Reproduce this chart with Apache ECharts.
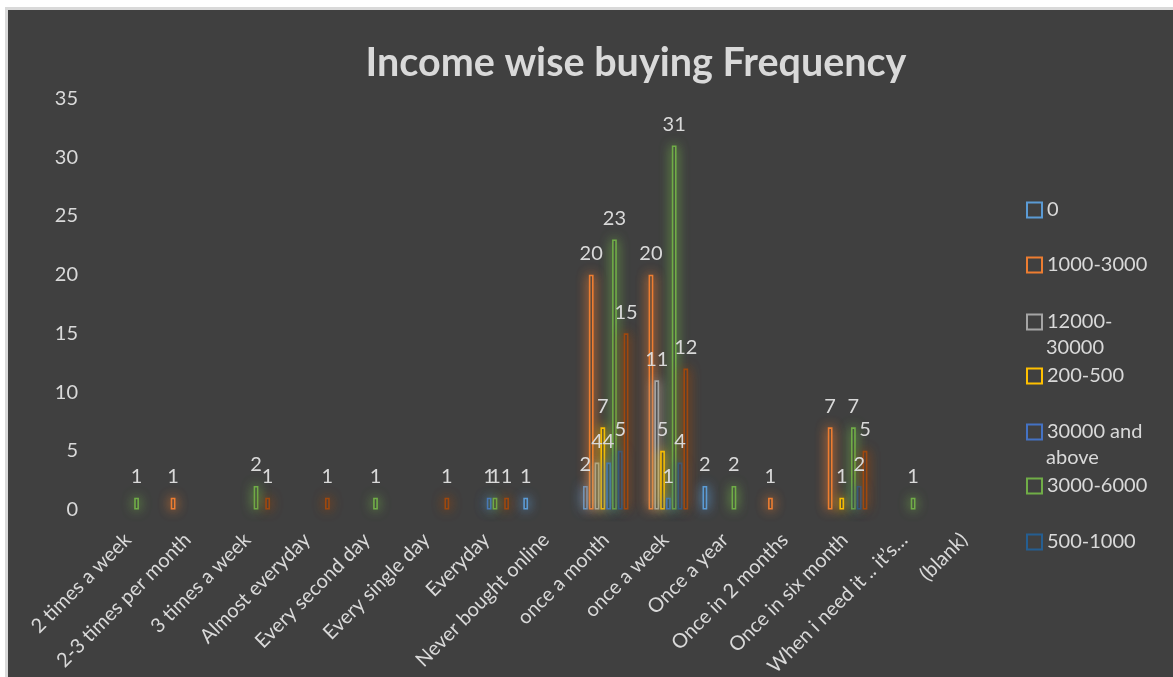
<!DOCTYPE html>
<html>
<head>
<meta charset="utf-8">
<script src="https://cdn.jsdelivr.net/npm/echarts@6/dist/echarts.min.js"></script>
<style>
  html, body { margin: 0; padding: 0; background: #ffffff; width: 1173px; height: 677px; overflow: hidden; }
  #frame { position: absolute; left: 5px; top: 7px; width: 1168px; height: 670px; background: #d9d9d9; }
  #chart { position: absolute; left: 8px; top: 10px; width: 1165px; height: 667px; }
</style>
</head>
<body>
<div id="frame"></div>
<div id="chart"></div>
<script>
// Buying frequency categories (x axis)
const categories = [
  '2 times a week', '2-3 times per month', '3 times a week', 'Almost everyday',
  'Every second day', 'Every single day', 'Everyday', 'Never bought online',
  'once a month', 'once a week', 'Once a year', 'Once in 2 months',
  'Once in six month', 'When i need it .. it\u2019s\u2026', '(blank)'
];

// Income groups, in legend order
const seriesNames = ['0', '1000-3000', '12000-30000', '200-500', '30000 and above', '3000-6000', '500-1000', '6000-12000'];
const seriesColors = ['#5B9BD5', '#ED7D31', '#A5A5A5', '#FFC000', '#4472C4', '#70AD47', '#255E91', '#9E480E'];

// Counts per category for each income group (null = no respondents)
const inc0        = [null, null, null, null, null, null, null, 1, 2, null, 2, null, null, null, null];
const inc1000     = [null, 1, null, null, null, null, null, null, 20, 20, null, 1, 7, null, null];
const inc12000    = [null, null, null, null, null, null, null, null, 4, 11, null, null, null, null, null];
const inc200      = [null, null, null, null, null, null, null, null, 7, 5, null, null, 1, null, null];
const inc30000    = [null, null, null, null, null, null, 1, null, 4, 1, null, null, null, null, null];
const inc3000     = [1, null, 2, null, 1, null, 1, null, 23, 31, 2, null, 7, 1, null];
const inc500      = [null, null, null, null, null, null, null, null, 5, 4, null, null, 2, null, null];
const inc6000     = [null, null, 1, 1, null, 1, 1, null, 15, 12, null, null, 5, null, null];
const seriesValues = [inc0, inc1000, inc12000, inc200, inc30000, inc3000, inc500, inc6000];

// Y axis ticks
const yMin = 0, yMax = 35, yStep = 5;

// Legend entries shown (the last group does not fit in the legend box)
const legendEntries = ['0', '1000-3000', '12000-30000', '200-500', '30000 and above', '3000-6000', '500-1000'];
// Legend labels that wrap onto a second line
const legendLines = {
  '12000-30000': ['12000-', '30000'],
  '30000 and above': ['30000 and', 'above']
};

const FONT = 'Lato, "Open Sans", sans-serif';
const TEXT = '#d9d9d9';
const BG = '#404040';

function hexA(hex, a) {
  const n = parseInt(hex.slice(1), 16);
  return 'rgba(' + (n >> 16) + ',' + ((n >> 8) & 255) + ',' + (n & 255) + ',' + a + ')';
}

const chart = echarts.init(document.getElementById('chart'), null, { renderer: 'canvas' });

const series = seriesNames.map((name, i) => ({
  name: name,
  type: 'bar',
  data: seriesValues[i],
  barCategoryGap: '24%',
  barGap: '22%',
  itemStyle: {
    color: BG,
    borderColor: seriesColors[i],
    borderWidth: 1.6,
    shadowBlur: 12,
    shadowColor: hexA(seriesColors[i], 0.9)
  },
  label: {
    show: true,
    position: 'top',
    distance: 11,
    color: TEXT,
    fontFamily: FONT,
    fontSize: 20
  },
  emphasis: { disabled: true },
  animation: false
}));

// Legend icon centers (px, relative to chart)
const legendTops = [200, 255, 312, 366, 422, 476, 532];
const legends = legendEntries.map((name, i) => {
  const ci = seriesNames.indexOf(name);
  return {
    data: [name],
    left: 1018,
    top: legendTops[i] - 12,
    padding: 0,
    icon: 'rect',
    itemWidth: 15,
    itemHeight: 15,
    selectedMode: false,
    formatter: n => legendLines[n] ? legendLines[n][0] : n,
    textStyle: { color: TEXT, fontFamily: FONT, fontSize: 20, lineHeight: 24 },
    itemStyle: { color: BG, borderColor: seriesColors[ci], borderWidth: 2 }
  };
});

const extraLines = [];
legendEntries.forEach((name, i) => {
  if (legendLines[name]) {
    extraLines.push({
      type: 'text',
      left: 1038,
      top: legendTops[i] + 28 - 12,
      style: { text: legendLines[name][1], fill: TEXT, font: '20px ' + FONT }
    });
  }
});

chart.setOption({
  backgroundColor: BG,
  animation: false,
  grid: { left: 90, right: 179, top: 88.5, bottom: 167.5, containLabel: false, outerBoundsMode: 'none' },
  legend: legends,
  graphic: [
    {
      type: 'text',
      x: 628,
      y: 53,
      style: {
        text: 'Income wise buying Frequency',
        fill: TEXT,
        font: 'bold 39.5px ' + FONT,
        align: 'center',
        verticalAlign: 'middle'
      }
    }
  ].concat(extraLines),
  xAxis: {
    type: 'category',
    data: categories,
    axisLine: { show: false },
    axisTick: { show: false },
    axisLabel: {
      interval: 0,
      rotate: 45,
      margin: 27,
      color: TEXT,
      fontFamily: FONT,
      fontSize: 20
    }
  },
  yAxis: {
    type: 'value',
    min: yMin,
    max: yMax,
    interval: yStep,
    axisLine: { show: false },
    axisTick: { show: false },
    splitLine: { show: false },
    axisLabel: { color: TEXT, fontFamily: FONT, fontSize: 20, margin: 20 }
  },
  series: series
});
</script>
</body>
</html>
